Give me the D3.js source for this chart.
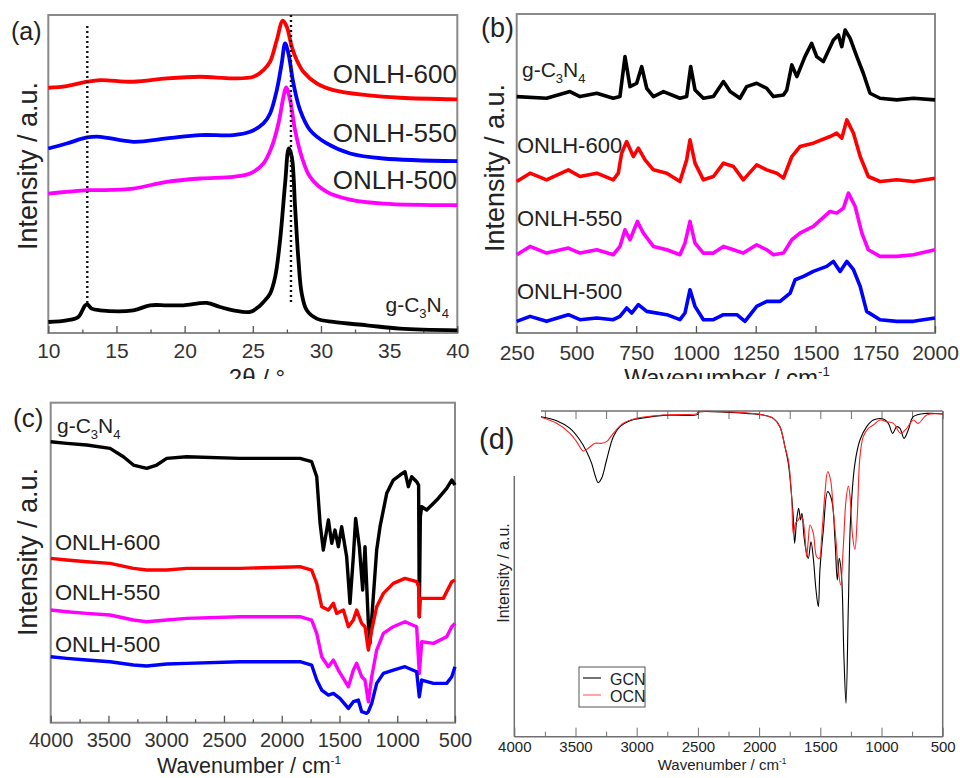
<!DOCTYPE html>
<html>
<head>
<meta charset="utf-8">
<script src="https://cdn.jsdelivr.net/npm/d3@7"></script>
<style>
  body { margin: 0; background: #fff; }
  text { font-family: "Liberation Sans", Arial, sans-serif; fill: #222; }
</style>
</head>
<body>
<script>
// ---- (a) XRD, 2theta vs stacked intensity ----
var xrdGCN = [[10,35],[11.35,40],[12.2,50],[12.7,85],[12.86,88],[13.18,75],[13.79,70],[16.24,70],[17.46,85],[18.69,85],[19.91,85],[21.62,92],[22.6,80],[23.57,70],[24.8,65],[25.41,80],[25.78,95],[26.27,120],[26.64,170],[27.0,280],[27.37,450],[27.64,555],[27.86,530],[28.1,380],[28.35,220],[28.59,120],[28.96,70],[29.69,45],[30.91,35],[33.36,25],[35.8,15],[40,10]];
var xrd500 = [[10,420],[11.35,425],[12.86,430],[13.79,430],[16.24,435],[18.69,455],[21.13,465],[23.57,470],[24.8,480],[25.78,510],[26.39,560],[26.88,630],[27.25,710],[27.44,738],[27.74,700],[28.1,610],[28.59,530],[29.2,470],[30.43,425],[32.14,402],[34.58,390],[40,385]];
var xrd550 = [[10,555],[11.35,570],[12.86,588],[13.79,590],[16.24,575],[18.69,585],[21.13,595],[23.57,595],[24.8,605],[25.78,630],[26.27,660],[26.76,730],[27.12,810],[27.37,870],[27.61,840],[27.98,750],[28.47,670],[29.2,610],[30.43,570],[32.14,540],[34.58,525],[40,517]];
var xrd600 = [[10,737],[11.35,742],[12.86,755],[13.79,760],[16.24,755],[18.69,765],[21.13,770],[23.57,765],[25.04,770],[25.78,790],[26.27,815],[26.76,880],[27.2,938],[27.49,920],[27.86,860],[28.22,820],[28.71,785],[29.69,750],[30.91,730],[33.36,715],[35.8,707],[40,702]];
var xrdMarkers = [12.86, 27.8];
var xrdTicks = [10, 15, 20, 25, 30, 35, 40];

// ---- (b) Raman ----
var ramanGCN = [[250,710],[375,705],[473,725],[515,710],[585,720],[654,705],[682,710],[703,830],[724,740],[752,750],[773,800],[794,735],[822,710],[864,725],[933,705],[961,710],[978,800],[996,730],[1031,705],[1073,710],[1115,755],[1143,725],[1184,705],[1212,740],[1254,750],[1296,735],[1324,710],[1366,715],[1380,730],[1401,805],[1422,770],[1456,830],[1484,870],[1505,830],[1533,815],[1575,880],[1596,895],[1610,860],[1624,910],[1645,885],[1673,830],[1700,780],[1728,720],[1770,705],[1840,700],[1910,705],[2000,700]];
var raman600 = [[250,455],[306,480],[375,460],[466,490],[515,470],[585,480],[654,460],[675,480],[689,540],[710,575],[738,530],[759,555],[787,520],[822,490],[878,480],[933,455],[961,520],[975,580],[996,510],[1031,460],[1073,470],[1115,510],[1157,500],[1198,460],[1254,505],[1296,490],[1338,480],[1366,465],[1401,530],[1435,560],[1491,570],[1561,590],[1589,600],[1610,585],[1631,640],[1659,600],[1687,530],[1721,470],[1770,455],[1840,460],[1910,455],[2000,465]];
var raman550 = [[250,235],[306,260],[375,240],[466,255],[515,240],[585,250],[654,235],[682,260],[703,310],[724,280],[755,335],[780,300],[822,260],[878,250],[933,235],[954,270],[975,335],[996,270],[1031,240],[1073,240],[1115,260],[1157,250],[1198,240],[1254,265],[1296,250],[1324,235],[1366,240],[1401,280],[1435,300],[1491,320],[1561,365],[1589,360],[1617,375],[1638,420],[1666,380],[1694,300],[1721,250],[1770,230],[1840,230],[1910,235],[2000,250]];
var raman500 = [[250,35],[306,50],[375,35],[466,55],[515,40],[585,45],[654,40],[682,50],[710,75],[731,60],[759,85],[794,65],[878,55],[933,40],[954,60],[975,130],[996,80],[1031,40],[1073,40],[1115,55],[1171,55],[1205,35],[1254,80],[1296,95],[1352,95],[1394,120],[1415,160],[1450,170],[1491,185],[1547,200],[1575,215],[1603,185],[1631,215],[1659,190],[1687,140],[1714,65],[1770,40],[1840,35],[1910,35],[2000,45]];
var ramanTicks = [250, 500, 750, 1000, 1250, 1500, 1750, 2000];

// ---- (c) FTIR ----
var ftirGCN = [[4000,845],[3861,840],[3688,835],[3486,825],[3371,800],[3284,775],[3169,765],[3082,775],[2996,795],[2823,800],[2361,795],[1842,795],[1741,785],[1697,740],[1668,600],[1640,520],[1596,610],[1567,540],[1539,580],[1510,530],[1481,590],[1438,500],[1409,360],[1380,500],[1360,615],[1328,530],[1299,400],[1279,530],[1250,300],[1236,240],[1207,380],[1178,520],[1149,590],[1091,690],[1034,730],[976,745],[933,755],[904,710],[875,740],[832,725],[815,715],[809,320],[800,620],[788,650],[745,640],[658,670],[572,705],[528,730],[500,715]];
var ftir600 = [[4000,495],[3861,490],[3688,485],[3486,480],[3284,465],[3169,460],[2996,460],[2823,465],[2361,465],[1842,470],[1741,460],[1697,420],[1654,350],[1596,340],[1553,360],[1524,330],[1466,340],[1423,290],[1380,310],[1351,340],[1308,300],[1279,290],[1250,220],[1221,280],[1178,350],[1120,390],[1034,420],[933,435],[832,425],[815,410],[809,320],[800,375],[745,375],[601,375],[528,425],[500,430]];
var ftir550 = [[4000,340],[3861,335],[3688,330],[3486,325],[3284,310],[3169,305],[2996,310],[2823,315],[2361,320],[1842,320],[1741,310],[1697,270],[1654,200],[1596,170],[1553,190],[1510,160],[1423,110],[1380,160],[1351,180],[1308,140],[1279,130],[1250,65],[1221,140],[1178,220],[1120,270],[1034,290],[933,305],[832,290],[809,150],[788,245],[687,240],[572,260],[528,290],[500,300]];
var ftir500 = [[4000,200],[3861,195],[3688,190],[3486,185],[3284,175],[3169,172],[2996,178],[2823,180],[2361,185],[1842,185],[1741,175],[1697,130],[1654,100],[1596,85],[1553,90],[1496,75],[1423,45],[1380,65],[1337,70],[1308,35],[1265,30],[1250,35],[1221,60],[1178,120],[1120,150],[1034,160],[933,170],[832,155],[809,80],[788,130],[687,120],[572,120],[528,140],[500,170]];
var ftirTicks = [4000, 3500, 3000, 2500, 2000, 1500, 1000, 500];

// ---- (d) computed IR spectra ----
var irGCN = [[3782,960],[3654,948],[3545,925],[3464,890],[3409,855],[3368,820],[3341,785],[3314,762],[3287,775],[3246,830],[3191,900],[3137,930],[3055,948],[2919,958],[2783,964],[2501,967],[2500,973],[2238,973],[2102,970],[1966,965],[1884,955],[1830,930],[1789,870],[1761,820],[1734,720],[1721,660],[1710,580],[1693,650],[1677,685],[1661,650],[1650,670],[1633,600],[1617,560],[1598,535],[1576,585],[1557,535],[1535,440],[1516,390],[1503,500],[1475,620],[1440,735],[1407,710],[1380,590],[1361,470],[1345,535],[1326,480],[1307,240],[1290,100],[1271,390],[1252,660],[1217,820],[1176,890],[1121,930],[1067,950],[985,953],[944,940],[909,910],[876,930],[849,925],[816,895],[781,920],[740,960],[631,970],[500,968]];
var irOCN = [[3782,958],[3654,940],[3545,910],[3491,885],[3437,857],[3396,865],[3341,880],[3287,880],[3246,885],[3191,910],[3110,940],[3001,955],[2783,965],[2501,970],[2500,974],[2238,974],[1966,965],[1884,955],[1830,930],[1789,870],[1761,830],[1734,720],[1721,610],[1702,640],[1680,650],[1661,665],[1644,655],[1625,600],[1612,540],[1598,590],[1584,635],[1557,610],[1530,540],[1508,535],[1489,600],[1462,730],[1440,795],[1416,770],[1394,680],[1372,590],[1353,500],[1334,455],[1312,570],[1290,710],[1271,752],[1257,720],[1236,600],[1217,562],[1198,660],[1176,840],[1149,900],[1108,925],[1067,935],[1012,950],[957,945],[903,940],[843,910],[794,925],[740,950],[699,940],[631,965],[500,968]];
var irTicks = [4000, 3500, 3000, 2500, 2000, 1500, 1000, 500];
var irLegend = ["GCN", "OCN"];

var lineColors = { gcn: "#000000", s600: "#ff0000", s550: "#0000ff", s500: "#ff00ff" };

var svg = d3.select("body").append("svg")
  .attr("width", 960)
  .attr("height", 778);

// the top row is cut just under its axis titles, as in the source figure
svg.append("defs").append("clipPath").attr("id", "topClip")
  .append("rect").attr("x", 0).attr("y", 0).attr("width", 960).attr("height", 379);

var topGroup = svg.append("g").attr("clip-path", "url(#topClip)");

function formula(g, x, y, size, anchor) {
  var t = g.append("text")
    .attr("x", x).attr("y", y)
    .attr("font-size", size)
    .attr("text-anchor", anchor);
  t.append("tspan").text("g-C");
  t.append("tspan").attr("font-size", size * 0.62).attr("dy", size * 0.28).text("3");
  t.append("tspan").attr("dy", -size * 0.28).text("N");
  t.append("tspan").attr("font-size", size * 0.62).attr("dy", size * 0.28).text("4");
}

function wavenumberTitle(g, x, y, size) {
  var t = g.append("text")
    .attr("x", x).attr("y", y)
    .attr("font-size", size)
    .attr("text-anchor", "middle");
  t.append("tspan").text("Wavenumber / cm");
  t.append("tspan").attr("font-size", size * 0.55).attr("dy", -size * 0.4).text("-1");
}

function yTitle(g, x, y, size) {
  g.append("text")
    .attr("transform", "translate(" + x + "," + y + ") rotate(-90)")
    .attr("text-anchor", "middle")
    .attr("font-size", size)
    .text("Intensity / a.u.");
}

// common frame + bottom axis for panels a, b, c
function framedPanel(g, x, y, opts) {
  g.append("rect")
    .attr("x", x.range()[0]).attr("y", y.range()[1])
    .attr("width", x.range()[1] - x.range()[0])
    .attr("height", y.range()[0] - y.range()[1])
    .style("fill", "none")
    .style("stroke", "#8a8a8a")
    .style("stroke-width", 2);

  if (opts.minor) {
    var minorAxis = g.append("g")
      .attr("transform", "translate(0," + y.range()[0] + ")")
      .call(d3.axisBottom(x).tickValues(opts.minor).tickSize(-3.5).tickFormat(""));
    minorAxis.select(".domain").remove();
    minorAxis.selectAll("line").style("stroke", "#555").style("stroke-width", 1.3);
  }

  var axis = g.append("g")
    .attr("transform", "translate(0," + y.range()[0] + ")")
    .call(d3.axisBottom(x).tickValues(opts.ticks).tickSize(-7).tickPadding(opts.pad).tickFormat(d3.format("d")));
  axis.select(".domain").remove();
  axis.selectAll("line").style("stroke", "#555").style("stroke-width", 1.3);
  axis.selectAll("text")
    .style("font-family", "Liberation Sans, Arial, sans-serif")
    .style("font-size", (opts.font || 21) + "px")
    .style("fill", "#333");
}

function drawSeries(g, x, y, data, color, width, curve) {
  var line = d3.line()
    .x(function(d) { return x(d[0]); })
    .y(function(d) { return y(d[1]); })
    .curve(curve);
  g.append("path")
    .attr("d", line(data))
    .style("fill", "none")
    .style("stroke", color)
    .style("stroke-width", width)
    .style("stroke-linejoin", "round");
}

// ---------------- (a) ----------------
var xA = d3.scaleLinear().domain([10, 40]).range([48.3, 457.3]);
var yA = d3.scaleLinear().domain([2, 955]).range([333, 15]);
var gA = topGroup.append("g");

framedPanel(gA, xA, yA, { ticks: xrdTicks, minor: [12.5, 17.5, 22.5, 27.5, 32.5, 37.5], pad: 10 });

var smooth = d3.curveCatmullRom.alpha(0.5);
drawSeries(gA, xA, yA, xrd600, lineColors.s600, 3.8, smooth);
drawSeries(gA, xA, yA, xrd550, lineColors.s550, 3.8, smooth);
drawSeries(gA, xA, yA, xrd500, lineColors.s500, 3.8, smooth);
drawSeries(gA, xA, yA, xrdGCN, lineColors.gcn, 3.8, smooth);

gA.selectAll(".marker")
  .data(xrdMarkers)
  .enter().append("line")
    .attr("x1", function(d) { return xA(d); })
    .attr("x2", function(d) { return xA(d); })
    .attr("y1", function(d, i) { return i === 0 ? yA(922) : yA(955); })
    .attr("y2", yA(90))
    .style("stroke", "#111")
    .style("stroke-width", 2.4)
    .style("stroke-dasharray", "2,3");

gA.append("text").attr("x", 457).attr("y", 83).attr("font-size", 26).attr("text-anchor", "end").text("ONLH-600");
gA.append("text").attr("x", 457).attr("y", 142).attr("font-size", 26).attr("text-anchor", "end").text("ONLH-550");
gA.append("text").attr("x", 457).attr("y", 189).attr("font-size", 26).attr("text-anchor", "end").text("ONLH-500");
formula(gA, 449, 312, 21, "end");
gA.append("text").attr("x", 11).attr("y", 40).attr("font-size", 25).text("(a)");
yTitle(gA, 36.5, 166, 27);
gA.append("text").attr("x", 257).attr("y", 386).attr("font-size", 24).attr("text-anchor", "middle").text("2\u03b8 / \u00b0");

// ---------------- (b) ----------------
var xB = d3.scaleLinear().domain([250, 2000]).range([516.7, 935]);
var yB = d3.scaleLinear().domain([0, 958]).range([333, 14]);
var gB = topGroup.append("g");

framedPanel(gB, xB, yB, { ticks: ramanTicks, pad: 12 });

drawSeries(gB, xB, yB, ramanGCN, lineColors.gcn, 3.6, d3.curveLinear);
drawSeries(gB, xB, yB, raman600, lineColors.s600, 3.6, d3.curveLinear);
drawSeries(gB, xB, yB, raman550, lineColors.s500, 3.6, d3.curveLinear);
drawSeries(gB, xB, yB, raman500, lineColors.s550, 3.6, d3.curveLinear);

formula(gB, 522, 77, 21, "start");
gB.append("text").attr("x", 517).attr("y", 153).attr("font-size", 22).text("ONLH-600");
gB.append("text").attr("x", 517).attr("y", 226).attr("font-size", 22).text("ONLH-550");
gB.append("text").attr("x", 517).attr("y", 299).attr("font-size", 22).text("ONLH-500");
gB.append("text").attr("x", 481).attr("y", 37).attr("font-size", 27).text("(b)");
yTitle(gB, 504, 168, 27);
wavenumberTitle(gB, 727, 386, 24);

// ---------------- (c) ----------------
var xC = d3.scaleLinear().domain([4000, 500]).range([50.7, 455]);
var yC = d3.scaleLinear().domain([2, 962]).range([722.7, 402.7]);
var gC = svg.append("g");

framedPanel(gC, xC, yC, { ticks: ftirTicks, minor: [3750, 3250, 2750, 2250, 1750, 1250, 750], pad: 10.5, font: 20 });

drawSeries(gC, xC, yC, ftirGCN, lineColors.gcn, 3.4, d3.curveLinear);
drawSeries(gC, xC, yC, ftir600, lineColors.s600, 3.4, d3.curveLinear);
drawSeries(gC, xC, yC, ftir550, lineColors.s500, 3.4, d3.curveLinear);
drawSeries(gC, xC, yC, ftir500, lineColors.s550, 3.4, d3.curveLinear);

formula(gC, 57, 433, 21, "start");
gC.append("text").attr("x", 55).attr("y", 550).attr("font-size", 22).text("ONLH-600");
gC.append("text").attr("x", 55).attr("y", 600).attr("font-size", 22).text("ONLH-550");
gC.append("text").attr("x", 55).attr("y", 652).attr("font-size", 22).text("ONLH-500");
gC.append("text").attr("x", 13).attr("y", 427).attr("font-size", 26).text("(c)");
yTitle(gC, 36.5, 552, 27);
wavenumberTitle(gC, 249, 773, 21.5);

// ---------------- (d) ----------------
var xD = d3.scaleLinear().domain([4000, 500]).range([514.3, 942.7]);
var yD = d3.scaleLinear().domain([0, 977]).range([736.7, 411]);
var gD = svg.append("g");
var frameColor = "#707070";

// open frame: top line starts where the data start, left line starts lower
gD.append("line").attr("x1", xD(3782)).attr("x2", xD(500)).attr("y1", yD(977)).attr("y2", yD(977))
  .style("stroke", frameColor).style("stroke-width", 1.5);
gD.append("line").attr("x1", xD(500)).attr("x2", xD(500)).attr("y1", yD(977)).attr("y2", yD(0))
  .style("stroke", frameColor).style("stroke-width", 1.5);
gD.append("line").attr("x1", xD(4000)).attr("x2", xD(500)).attr("y1", yD(0)).attr("y2", yD(0))
  .style("stroke", frameColor).style("stroke-width", 1.5);
gD.append("line").attr("x1", xD(4000)).attr("x2", xD(4000)).attr("y1", 476).attr("y2", yD(0))
  .style("stroke", frameColor).style("stroke-width", 1.5);

var topTicks = gD.append("g")
  .attr("transform", "translate(0," + yD(977) + ")")
  .call(d3.axisTop(xD).tickValues(d3.range(3750, 499, -250)).tickSize(-8).tickFormat(""));
topTicks.select(".domain").remove();
topTicks.selectAll("line").style("stroke", frameColor);

var minorD = gD.append("g")
  .attr("transform", "translate(0," + yD(0) + ")")
  .call(d3.axisBottom(xD).tickValues([3750, 3250, 2750, 2250, 1750, 1250, 750]).tickSize(-5).tickFormat(""));
minorD.select(".domain").remove();
minorD.selectAll("line").style("stroke", frameColor);

var axisD = gD.append("g")
  .attr("transform", "translate(0," + yD(0) + ")")
  .call(d3.axisBottom(xD).tickValues(irTicks).tickSize(-9).tickPadding(5).tickFormat(d3.format("d")));
axisD.select(".domain").remove();
axisD.selectAll("line").style("stroke", frameColor);
axisD.selectAll("text")
  .style("font-family", "Liberation Sans, Arial, sans-serif")
  .style("font-size", "15px")
  .style("fill", "#222");

drawSeries(gD, xD, yD, irGCN, "#000", 1.1, smooth);
drawSeries(gD, xD, yD, irOCN, "#ff2020", 1.1, smooth);

gD.append("text").attr("x", 479).attr("y", 449).attr("font-size", 29).text("(d)");
yTitle(gD, 508.5, 573, 16);
wavenumberTitle(gD, 722, 770, 15);

// legend
var legend = gD.append("g");
legend.append("rect")
  .attr("x", 579).attr("y", 667).attr("width", 66).attr("height", 40)
  .style("fill", "#fff").style("stroke", "#555").style("stroke-width", 1);
legend.selectAll(".key")
  .data(irLegend)
  .enter().append("line")
    .attr("x1", 583).attr("x2", 601)
    .attr("y1", function(d, i) { return 678 + i * 17; })
    .attr("y2", function(d, i) { return 678 + i * 17; })
    .style("stroke", function(d, i) { return i === 0 ? "#000" : "#ff6060"; })
    .style("stroke-width", 1.1);
legend.selectAll(".keytext")
  .data(irLegend)
  .enter().append("text")
    .attr("x", 610)
    .attr("y", function(d, i) { return 685 + i * 17; })
    .attr("font-size", 16)
    .text(function(d) { return d; });
</script>
</body>
</html>
